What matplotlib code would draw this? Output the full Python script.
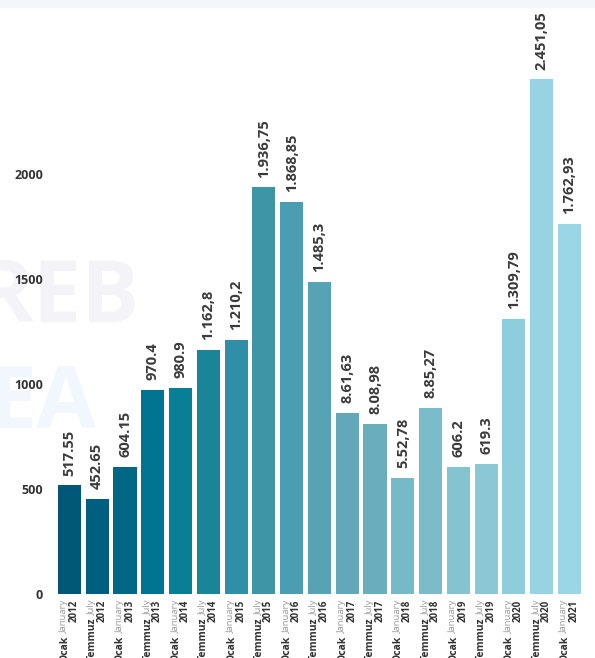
import numpy as np
import matplotlib.pyplot as plt

periods_tr = ["Ocak", "Temmuz"] * 9 + ["Ocak"]
periods_en = ["January", "July"] * 9 + ["January"]
years = ["2012", "2012", "2013", "2013", "2014", "2014", "2015", "2015", "2016", "2016",
         "2017", "2017", "2018", "2018", "2019", "2019", "2020", "2020", "2021"]
values = [517.55, 452.65, 604.15, 970.4, 980.9, 1162.8, 1210.2, 1936.75, 1868.85, 1485.3,
          861.63, 808.98, 552.78, 885.27, 606.2, 619.3, 1309.79, 2451.05, 1762.93]
value_labels = ["517.55", "452.65", "604.15", "970.4", "980.9", "1.162,8", "1.210,2",
                "1.936,75", "1.868,85", "1.485,3", "8.61,63", "8.08,98", "5.52,78",
                "8.85,27", "606.2", "619.3", "1.309,79", "2.451,05", "1.762,93"]

bar_colors = ["#005778", "#005e80", "#006784", "#007490", "#077f94", "#1a8598", "#2f8fa6",
              "#3e95a6", "#4b9eb2", "#57a2b4", "#62a8b8", "#6aaebd", "#76b9c7", "#7bbccb",
              "#84c3d0", "#8ac8d6", "#8ecedc", "#98d3e3", "#9ad6e6"]

plt.rcParams['font.family'] = ['Open Sans', 'DejaVu Sans']

W, H, DPI = 595, 658, 100
fig = plt.figure(figsize=(W / DPI, H / DPI), dpi=DPI)

# light band at the top and faint watermark
fig.patches.append(plt.Rectangle((0, 1 - 7 / H), 1, 7 / H, transform=fig.transFigure,
                                 color="#f3f7fb", zorder=0))
fig.text(-0.04, 1 - 300 / H, "REB", fontsize=62, fontweight="bold", color="#f3f3f8",
         va="center", ha="left", zorder=-1)
fig.text(-0.02, 1 - 405 / H, "EA", fontsize=62, fontweight="bold", color="#f1f7fc",
         va="center", ha="left", zorder=-1)

ax = fig.add_axes([50 / W, (H - 594) / H, 540 / W, 584 / H])
ax.set_zorder(2)
ax.patch.set_alpha(0)

n = len(values)
x = np.arange(n)
ax.bar(x, values, width=0.83, color=bar_colors, zorder=2)

for i, (v, lab) in enumerate(zip(values, value_labels)):
    ax.annotate(lab, xy=(i, v), xytext=(0, 7), textcoords="offset points",
                rotation=90, ha="center", va="bottom", fontsize=10.5,
                fontweight="bold", color="#3a3a3a")

ax.set_xlim(-0.70, 18.74)
ax.set_ylim(0, 2781)
ax.set_yticks([0, 500, 1000, 1500, 2000])
ax.set_yticklabels(["0", "500", "1000", "1500", "2000"], fontsize=9,
                   fontweight="bold", color="#333333")
ax.tick_params(axis="y", length=0, pad=5)
ax.set_xticks([])
for s in ax.spines.values():
    s.set_visible(False)

# two-line rotated category labels
fig.canvas.draw()
renderer = fig.canvas.get_renderer()
for i in range(n):
    ax.annotate(years[i], xy=(i, 0), xycoords=("data", "axes fraction"),
                xytext=(3.4, -4), textcoords="offset points", rotation=90,
                rotation_mode="anchor", ha="right", va="center", fontsize=7,
                fontweight="bold", color="#333333")
    t = ax.annotate(periods_en[i], xy=(i, 0), xycoords=("data", "axes fraction"),
                    xytext=(-3.4, -4), textcoords="offset points", rotation=90,
                    rotation_mode="anchor", ha="right", va="center", fontsize=6.8,
                    color="#9a9a9a")
    h = t.get_window_extent(renderer).height * 72 / DPI
    ax.annotate(periods_tr[i], xy=(i, 0), xycoords=("data", "axes fraction"),
                xytext=(-3.4, -4 - h - 2), textcoords="offset points", rotation=90,
                rotation_mode="anchor", ha="right", va="center", fontsize=7.5,
                fontweight="bold", color="#333333")

fig.savefig("out.png", dpi=DPI)
